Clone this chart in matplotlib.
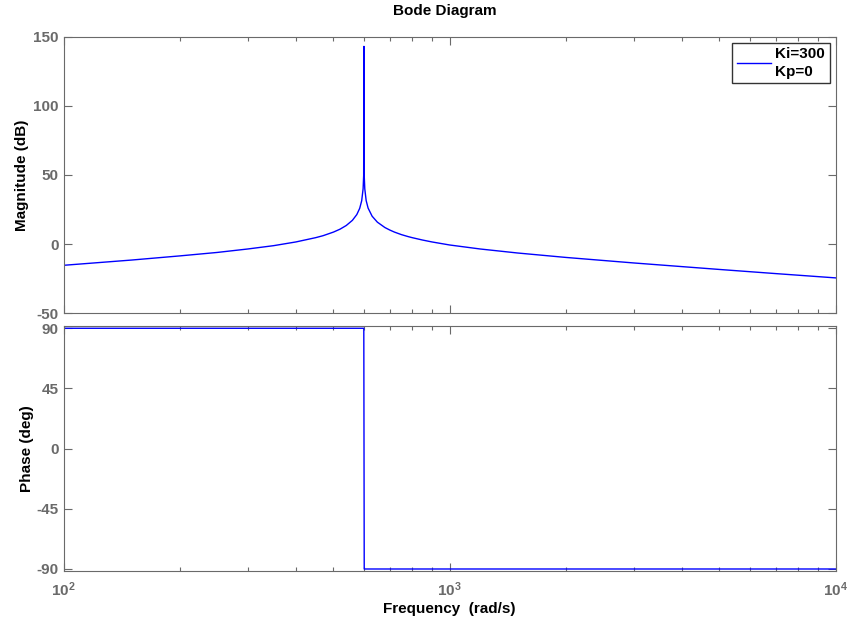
import matplotlib
matplotlib.use("Agg")
import matplotlib.pyplot as plt
from matplotlib.ticker import LogLocator, NullFormatter, FixedLocator

plt.rcParams['font.family'] = ['Liberation Sans', 'DejaVu Sans']
plt.rcParams['mathtext.fontset'] = 'custom'
plt.rcParams['mathtext.rm'] = 'Liberation Sans:bold'
plt.rcParams['mathtext.bf'] = 'Liberation Sans:bold'
plt.rcParams['mathtext.it'] = 'Liberation Sans:bold'

# Magnitude curve (rad/s, dB)
mag_freq = [100, 150, 200, 250, 300, 350, 400, 450, 470, 500, 520, 540, 560, 575, 585,
            592, 597, 599, 600, 601, 603, 608, 615, 630, 650, 680, 700, 720, 750, 780,
            800, 850, 900, 1000, 1200, 1500, 2000, 3000, 5000, 7000, 10000]
mag_db = [-15.3, -11.5, -8.5, -6.0, -3.5, -1.1, 1.6, 4.7, 6.1, 8.7, 10.8, 13.5, 17.2, 21.4, 25.9,
          31.4, 40.0, 49.5, 143.0, 49.5, 40.0, 31.5, 26.1, 20.2, 15.9, 12.0, 10.2, 8.7, 6.9, 5.5,
          4.7, 3.0, 1.6, -0.6, -3.5, -6.4, -9.6, -13.6, -18.3, -21.3, -24.4]

# Phase curve (rad/s, deg)
ph_freq = [100, 599.5, 601, 10000]
ph_deg = [90, 90, -90, -90]

legend_label = "Ki=300\nKp=0"
mag_ticks = [-50, 0, 50, 100, 150]
ph_ticks = [-90, -45, 0, 45, 90]
x_ticks = [100, 1000, 10000]
x_ticklabels = [r'$\mathbf{10^{2}}$', r'$\mathbf{10^{3}}$', r'$\mathbf{10^{4}}$']

W, H = 847, 623
fig = plt.figure(figsize=(W / 100, H / 100), dpi=100)
left = 63.5 / W
width = (835.7 - 63.5) / W
ax1 = fig.add_axes([left, 1 - 313.3 / H, width, (313.3 - 36.7) / H])
ax2 = fig.add_axes([left, 1 - 571 / H, width, (571 - 326) / H])

gray = '#6a6a6a'
blue = '#0000ff'

ax1.semilogx(mag_freq, mag_db, color=blue, lw=1.0, label=legend_label)
ax2.semilogx(ph_freq, ph_deg, color=blue, lw=1.0)

for ax in (ax1, ax2):
    ax.set_xlim(100, 10000)
    ax.xaxis.set_major_locator(FixedLocator(x_ticks))
    ax.xaxis.set_minor_locator(LogLocator(base=10, subs=range(2, 10)))
    ax.xaxis.set_minor_formatter(NullFormatter())
    ax.tick_params(which='both', direction='in', top=True, right=True,
                   colors=gray, labelsize=11, width=0.8)
    ax.tick_params(which='major', length=6)
    ax.tick_params(which='minor', length=3)
    ax.tick_params(axis='x', which='major', pad=7)
    for s in ax.spines.values():
        s.set_color(gray)
        s.set_linewidth(0.8)

ax1.set_ylim(-50, 150)
ax1.set_yticks(mag_ticks)
ax1.set_yticklabels([str(t) for t in mag_ticks], fontweight='bold')
ax1.set_xticklabels([])
ax1.set_ylabel('Magnitude (dB)', fontsize=11, fontweight='bold', labelpad=3)

ax2.set_ylim(-91.5, 91.7)
ax2.set_yticks(ph_ticks)
ax2.set_yticklabels([str(t) for t in ph_ticks], fontweight='bold')
ax2.set_xticklabels(x_ticklabels)
ax2.set_ylabel('Phase (deg)', fontsize=11, fontweight='bold', labelpad=2)
ax2.set_xlabel('Frequency  (rad/s)', fontsize=11, fontweight='bold', labelpad=2)

fig.text(445 / W, 1 - 10.5 / H, 'Bode Diagram', ha='center', va='center',
         fontsize=11, fontweight='bold')

leg = ax1.legend(loc='upper right', frameon=True, fancybox=False,
                 borderaxespad=0.4, handlelength=2.2, handletextpad=0.3,
                 borderpad=0.3, prop={'weight': 'bold', 'size': 11})
leg.get_frame().set_edgecolor('black')
leg.get_frame().set_linewidth(1.0)
for t in leg.get_texts():
    t.set_linespacing(1.3)

fig.savefig('out.png', dpi=100)
